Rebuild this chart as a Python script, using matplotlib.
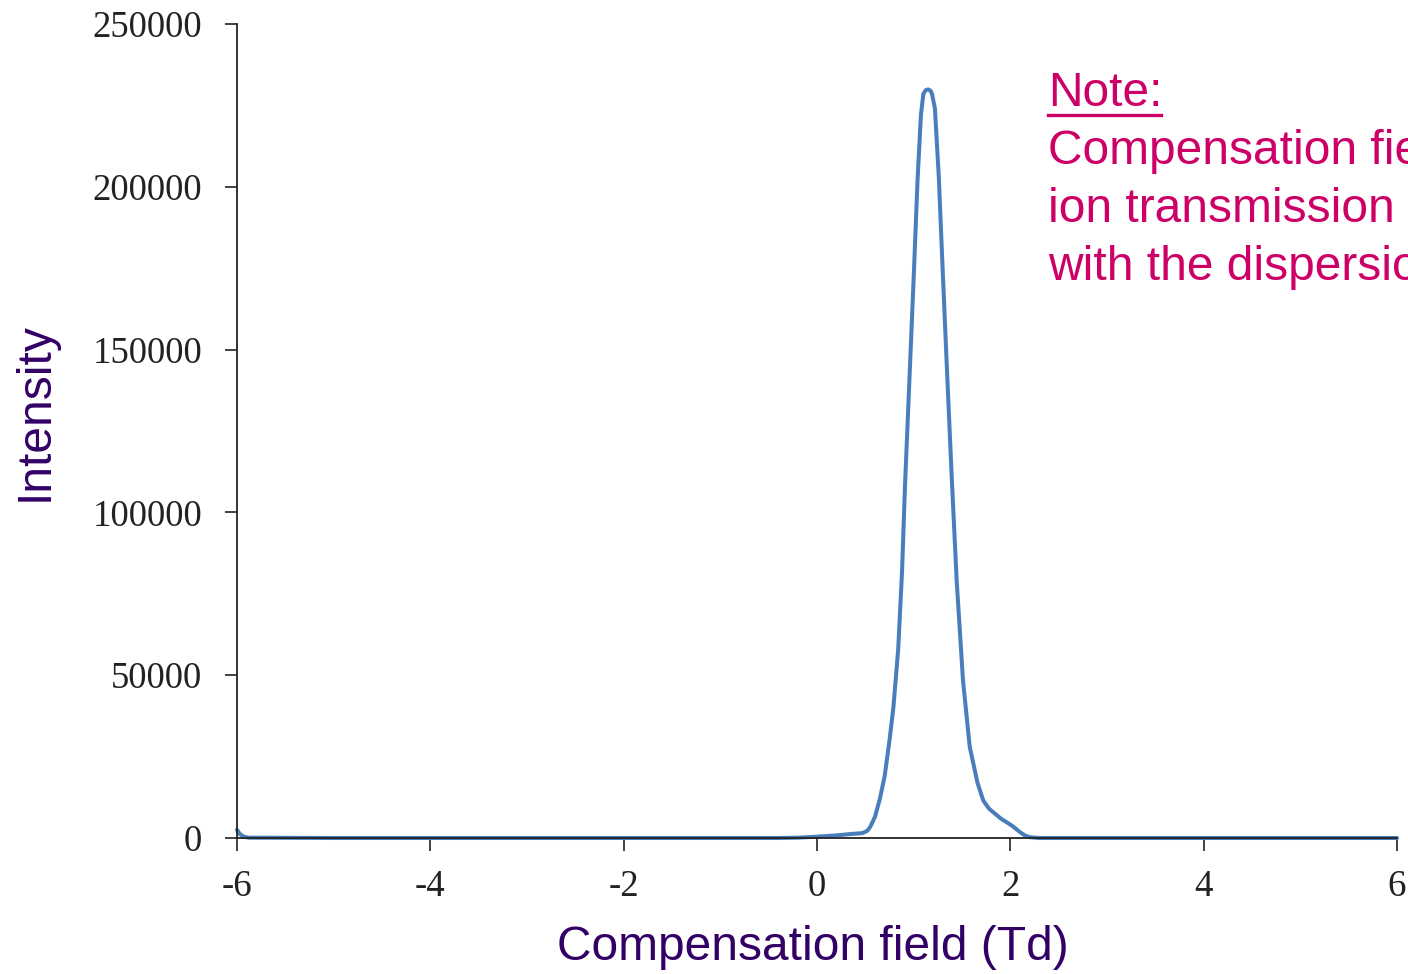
import matplotlib.pyplot as plt

# compensation field scan
field = [-6.0, -5.97, -5.93, -5.88, -5.0, -3.0, -1.0, -0.4, -0.2, 0.0, 0.2, 0.34, 0.47,
         0.52, 0.55, 0.60, 0.65, 0.70, 0.75, 0.79, 0.84, 0.88, 0.91, 0.955, 1.0, 1.04,
         1.075, 1.10, 1.125, 1.15, 1.175, 1.19, 1.22, 1.26, 1.305, 1.35, 1.395, 1.445,
         1.51, 1.58, 1.66, 1.72, 1.78, 1.82, 1.90, 1.98, 2.03, 2.1, 2.15, 2.2, 2.3,
         3.0, 4.0, 5.0, 6.0]
intensity = [2500, 1200, 400, 100, 0, 0, 0, 0, 100, 400, 800, 1200, 1500,
             2200, 3400, 6500, 12000, 19000, 30000, 40000, 58000, 82000, 108000, 140000, 172000, 202000,
             222000, 228500, 229700, 229900, 229500, 228500, 224000, 203000, 171000, 140000, 110000, 79000,
             48500, 28000, 17000, 11500, 9000, 8000, 6000, 4500, 3500, 1800, 800, 250, 0,
             0, 0, 0, 0]

xticks = [-6, -4, -2, 0, 2, 4, 6]
yticks = [0, 50000, 100000, 150000, 200000, 250000]

note_lines = ["Compensation field", "ion transmission", "with the dispersion"]

fig = plt.figure(figsize=(14.08, 9.74), dpi=100)
ax = fig.add_axes([237 / 1408, 1 - 838 / 974, 1160 / 1408, (838 - 24) / 974])

ax.plot(field, intensity, color='#4a7ebb', lw=2.9, solid_joinstyle='round',
        solid_capstyle='round', clip_on=False)

ax.set_xlim(-6, 6)
ax.set_ylim(0, 250000)
ax.set_xticks(xticks)
ax.set_yticks(yticks)
ax.set_xticklabels([str(t) for t in xticks], family='Liberation Serif', fontsize=26.5)
ax.set_yticklabels([str(t) for t in yticks], family='Liberation Serif', fontsize=26.5)
ax.tick_params(direction='out', length=9, width=1.2, colors='#222222', pad=16)
ax.tick_params(axis='x', pad=14)
for s in ['top', 'right']:
    ax.spines[s].set_visible(False)
for s in ['left', 'bottom']:
    ax.spines[s].set_color('#222222')
    ax.spines[s].set_linewidth(1.3)

fig.text(813 / 1408, 1 - 948 / 974, "Compensation field (Td)", family='Liberation Sans',
         fontsize=34.5, color='#330066', ha='center', va='center')
fig.text(35 / 1408, 1 - 412 / 974, "Intensity", family='Liberation Sans',
         fontsize=34.5, color='#330066', ha='center', va='center', rotation=90)

pink = '#cc0066'
fig.text(1048 / 1408, 1 - 94 / 974, "Note:", family='Liberation Sans', fontsize=34.5,
         color=pink, ha='left', va='center')
fig.add_artist(plt.Line2D([1048 / 1408, 1161 / 1408], [1 - 115 / 974, 1 - 115 / 974],
                          color=pink, lw=2.4))
for i, line in enumerate(note_lines):
    fig.text(1048 / 1408, 1 - (152 + 58 * i) / 974, line, family='Liberation Sans',
             fontsize=34.5, color=pink, ha='left', va='center')

fig.savefig('out.png', dpi=100)
